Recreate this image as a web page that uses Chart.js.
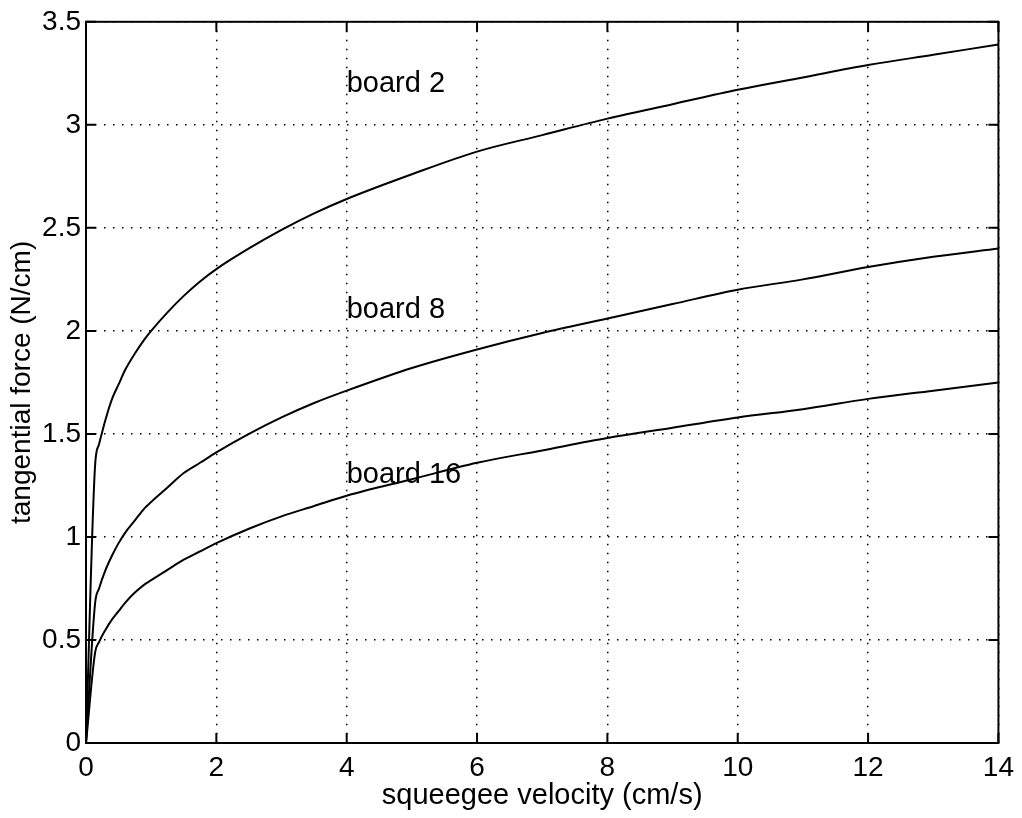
<!DOCTYPE html>
<html>
<head>
<meta charset="utf-8">
<script src="https://cdn.jsdelivr.net/npm/chart.js@4/dist/chart.umd.min.js"></script>
<style>
  html, body { margin: 0; padding: 0; background: #fff; }
  canvas { display: block; }
</style>
</head>
<body>
<canvas id="chart" width="1022" height="818"></canvas>
<script>
// values
const velocity = [0, 0.14, 0.2, 0.3, 0.4, 0.5, 0.6, 0.75, 0.9, 1, 1.25, 1.5, 1.75, 2, 2.5, 3, 3.5, 4, 5, 6, 7, 8, 9, 10, 11, 12, 13, 14];
const board2 = [0, 1.35, 1.45, 1.57, 1.67, 1.74, 1.81, 1.89, 1.96, 2.0, 2.09, 2.17, 2.24, 2.30, 2.40, 2.49, 2.57, 2.64, 2.76, 2.87, 2.95, 3.03, 3.10, 3.17, 3.23, 3.29, 3.34, 3.39];
const board8 = [0, 0.68, 0.75, 0.84, 0.91, 0.97, 1.02, 1.08, 1.14, 1.17, 1.24, 1.31, 1.36, 1.41, 1.50, 1.58, 1.65, 1.71, 1.82, 1.91, 1.99, 2.06, 2.13, 2.20, 2.25, 2.31, 2.36, 2.40];
const board16 = [0, 0.44, 0.49, 0.55, 0.60, 0.64, 0.68, 0.73, 0.77, 0.79, 0.84, 0.89, 0.93, 0.97, 1.04, 1.10, 1.15, 1.20, 1.28, 1.36, 1.42, 1.48, 1.53, 1.58, 1.62, 1.67, 1.71, 1.75];

const labelText = ['board 2', 'board 8', 'board 16'];
const labelX = [4, 4, 4];
const labelY = [3.2, 2.1, 1.3];

const FONT = '"Liberation Sans", Arial, Helvetica, sans-serif';

function toPoints(ys) {
    return velocity.map((v, i) => ({ x: v, y: ys[i] }));
}

function lineSet(ys) {
    return {
        data: toPoints(ys),
        borderColor: '#000',
        borderWidth: 2,
        pointRadius: 0,
        cubicInterpolationMode: 'monotone',
        fill: false,
    };
}

// box around the plot with inward ticks on all sides, plus the text labels
const framePlugin = {
    id: 'frame',
    afterDatasetsDraw(chart) {
        const ctx = chart.ctx;
        const a = chart.chartArea;
        const xs = chart.scales.x;
        const ys = chart.scales.y;
        const tl = 10;
        ctx.save();
        ctx.strokeStyle = '#000';
        ctx.lineWidth = 2;
        ctx.strokeRect(a.left, a.top, a.right - a.left, a.bottom - a.top);
        ctx.beginPath();
        xs.ticks.forEach(t => {
            const px = xs.getPixelForValue(t.value);
            ctx.moveTo(px, a.bottom); ctx.lineTo(px, a.bottom - tl);
            ctx.moveTo(px, a.top); ctx.lineTo(px, a.top + tl);
        });
        ys.ticks.forEach(t => {
            const py = ys.getPixelForValue(t.value);
            ctx.moveTo(a.left, py); ctx.lineTo(a.left + tl, py);
            ctx.moveTo(a.right, py); ctx.lineTo(a.right - tl, py);
        });
        ctx.stroke();

        ctx.fillStyle = '#000';
        ctx.font = '29px ' + FONT;
        ctx.textAlign = 'left';
        ctx.textBaseline = 'middle';
        labelText.forEach((txt, i) => {
            ctx.fillText(txt, xs.getPixelForValue(labelX[i]), ys.getPixelForValue(labelY[i]));
        });
        ctx.restore();
    }
};

const dottedGrid = {
    color: '#000',
    lineWidth: 1.5,
    drawTicks: false,
};

new Chart(document.getElementById('chart'), {
    type: 'line',
    data: {
        datasets: [lineSet(board2), lineSet(board8), lineSet(board16)],
    },
    options: {
        responsive: false,
        animation: false,
        devicePixelRatio: 1,
        layout: { padding: { top: 20, right: 20, left: 0, bottom: 0 } },
        plugins: {
            legend: { display: false },
            tooltip: { enabled: false },
        },
        scales: {
            x: {
                type: 'linear',
                min: 0,
                max: 14,
                ticks: { stepSize: 2, color: '#000', font: { family: FONT, size: 28 }, padding: 8, maxRotation: 0, callback: v => String(v) },
                grid: dottedGrid,
                border: { display: false, dash: [1.5, 7.5] },
                title: { display: true, text: 'squeegee velocity (cm/s)', color: '#000', font: { family: FONT, size: 29 }, padding: { top: 0, bottom: 5 } },
                afterFit(scale) { scale.height = 75; },
            },
            y: {
                type: 'linear',
                min: 0,
                max: 3.5,
                ticks: { stepSize: 0.5, color: '#000', font: { family: FONT, size: 28 }, padding: 5, callback: v => String(v) },
                grid: dottedGrid,
                border: { display: false, dash: [1.5, 7.5] },
                title: { display: true, text: 'tangential force (N/cm)', color: '#000', font: { family: FONT, size: 28 }, padding: { top: 5, bottom: 0 } },
                afterFit(scale) { scale.width = 86; },
            },
        },
    },
    plugins: [framePlugin],
});
</script>
</body>
</html>
